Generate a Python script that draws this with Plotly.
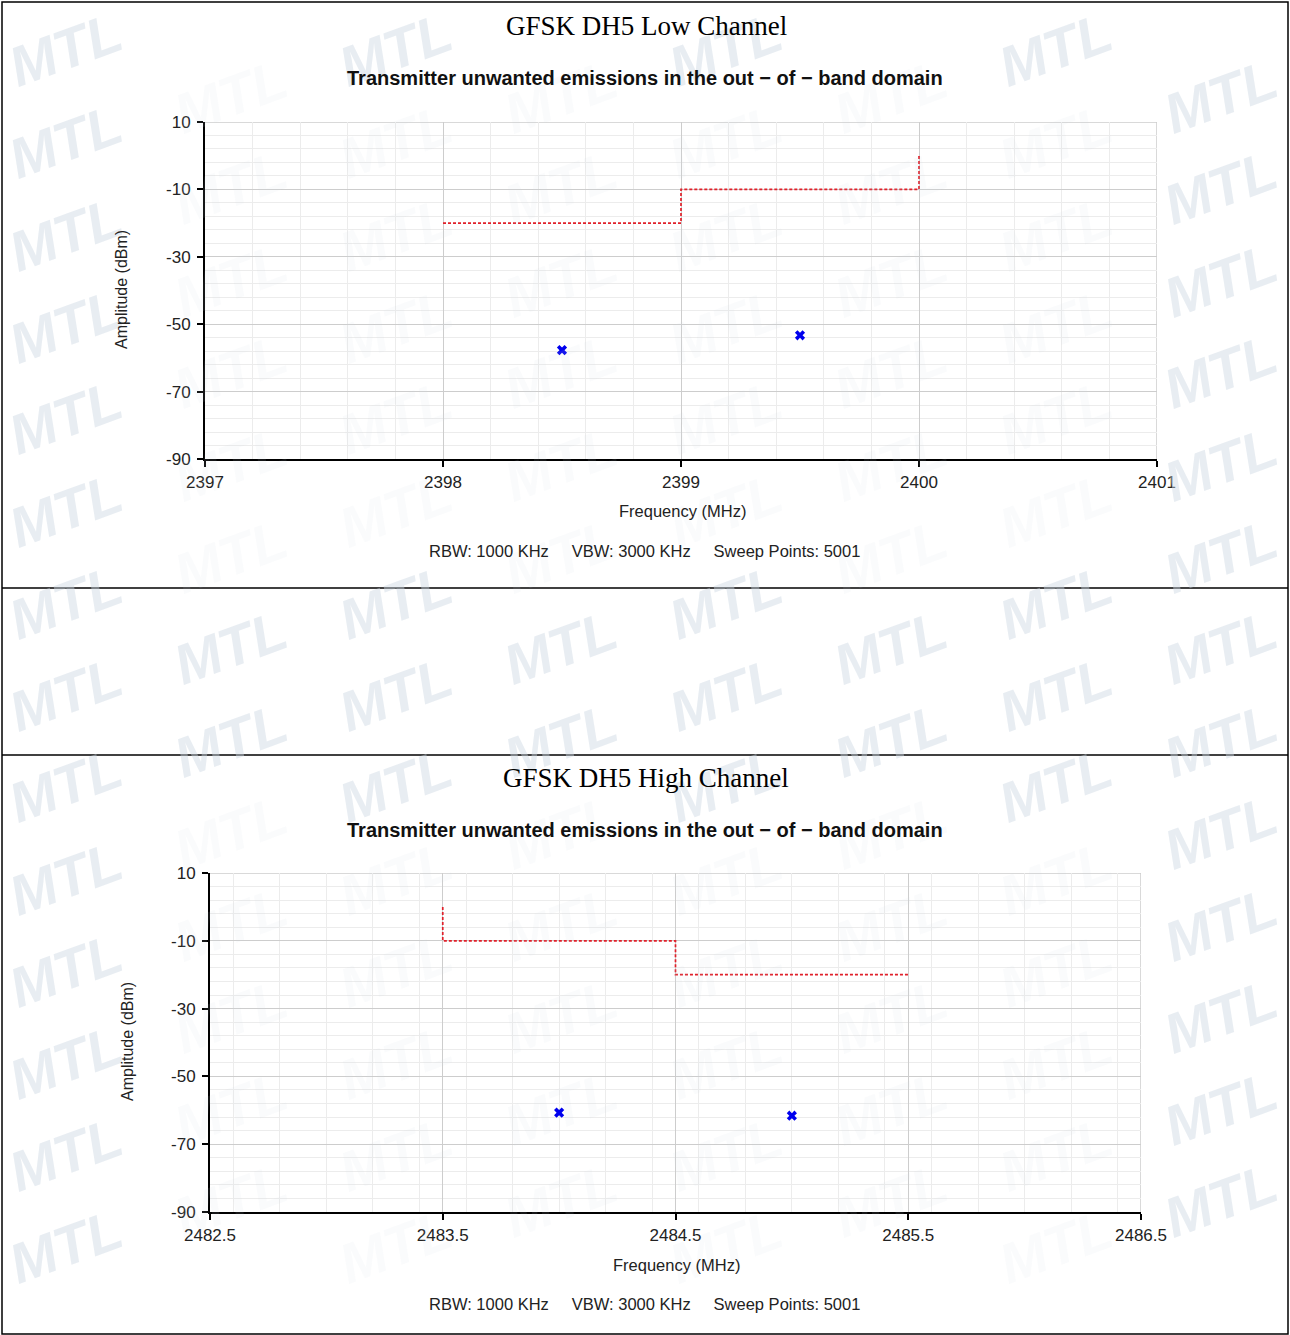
import plotly.graph_objects as go

W, H = 1290, 1335

# ---------------- data ----------------
low_title = "GFSK DH5 Low Channel"
high_title = "GFSK DH5 High Channel"
chart_title = "Transmitter unwanted emissions in the out \u2212 of \u2212 band domain"
info_text = "RBW: 1000 KHz\u00a0\u00a0\u00a0\u00a0 VBW: 3000 KHz\u00a0\u00a0\u00a0\u00a0 Sweep Points: 5001"

low_limit_x = [2398, 2399, 2399, 2400, 2400]
low_limit_y = [-20, -20, -10, -10, 0]
low_peak_x = [2398.5, 2399.5]
low_peak_y = [-57.7, -53.3]

high_limit_x = [2483.5, 2483.5, 2484.5, 2484.5, 2485.5]
high_limit_y = [0, -10, -10, -20, -20]
high_peak_x = [2484.0, 2485.0]
high_peak_y = [-60.7, -61.6]

low_xrange = [2397, 2401]
high_xrange = [2482.5, 2486.5]
y_range = [-90, 10]
y_tick_vals = [10, -10, -30, -50, -70, -90]
y_tick_text = ["10", "-10", "-30", "-50", "-70", "-90"]


def PX(px):
    return px / W


def PY(py):
    return 1 - py / H


fig = go.Figure()

SANS = "Liberation Sans, Arial, sans-serif"
SERIF = "Liberation Serif, Times New Roman, serif"

LIMIT_LINE = dict(color="#e0202a", width=1.7, dash="3px,2px")
PEAK_MARK = dict(symbol="x", size=9, color="#0000ee", line=dict(width=0))

fig.add_trace(go.Scatter(x=low_limit_x, y=low_limit_y, mode="lines", line=LIMIT_LINE,
                         xaxis="x", yaxis="y", showlegend=False, hoverinfo="skip"))
fig.add_trace(go.Scatter(x=low_peak_x, y=low_peak_y, mode="markers", marker=PEAK_MARK,
                         xaxis="x", yaxis="y", showlegend=False))
fig.add_trace(go.Scatter(x=high_limit_x, y=high_limit_y, mode="lines", line=LIMIT_LINE,
                         xaxis="x2", yaxis="y2", showlegend=False, hoverinfo="skip"))
fig.add_trace(go.Scatter(x=high_peak_x, y=high_peak_y, mode="markers", marker=PEAK_MARK,
                         xaxis="x2", yaxis="y2", showlegend=False))


def xaxis_cfg(rng, dom, anchor, fmt):
    return dict(range=rng, domain=dom, anchor=anchor, dtick=1, tick0=rng[0], tickformat=fmt,
                showline=True, linecolor="black", linewidth=2,
                ticks="outside", ticklen=6, tickwidth=1.5, tickcolor="black",
                ticklabelstandoff=1,
                tickfont=dict(family=SANS, size=17, color="#222"),
                showgrid=True, gridcolor="#cdcdcd", gridwidth=1, zeroline=False,
                minor=dict(dtick=0.2, showgrid=True, gridcolor="#ececec", gridwidth=1, ticks=""),
                automargin=False, fixedrange=True)


def yaxis_cfg(dom, anchor):
    return dict(range=y_range, domain=dom, anchor=anchor,
                tickmode="array", tickvals=y_tick_vals, ticktext=y_tick_text,
                showline=True, linecolor="black", linewidth=2,
                ticks="outside", ticklen=6, tickwidth=1.5, tickcolor="black",
                ticklabelstandoff=3,
                tickfont=dict(family=SANS, size=17, color="#222"),
                showgrid=True, gridcolor="#cdcdcd", gridwidth=1, zeroline=False,
                minor=dict(tickmode="linear", tick0=10, dtick=4, showgrid=True,
                           gridcolor="#ececec", gridwidth=1, ticks=""),
                automargin=False, fixedrange=True)


top_box = dict(l=205, r=1157, t=122, b=459)
bot_box = dict(l=210, r=1141, t=873, b=1212)

fig.update_layout(
    width=W, height=H,
    margin=dict(l=0, r=0, t=0, b=0, pad=0, autoexpand=False),
    paper_bgcolor="white", plot_bgcolor="white",
    xaxis=xaxis_cfg(low_xrange, [PX(top_box["l"]), PX(top_box["r"])], "y", "d"),
    yaxis=yaxis_cfg([PY(top_box["b"]), PY(top_box["t"])], "x"),
    xaxis2=xaxis_cfg(high_xrange, [PX(bot_box["l"]), PX(bot_box["r"])], "y2", ".1f"),
    yaxis2=yaxis_cfg([PY(bot_box["b"]), PY(bot_box["t"])], "x2"),
    showlegend=False,
)

shapes = []
for xr, yr, rng in (("x", "y", low_xrange), ("x2", "y2", high_xrange)):
    shapes.append(dict(type="line", xref=xr, yref=yr, x0=rng[0], x1=rng[1], y0=y_range[1], y1=y_range[1],
                       line=dict(color="#cdcdcd", width=1.5), layer="below"))
    shapes.append(dict(type="line", xref=xr, yref=yr, x0=rng[1], x1=rng[1], y0=y_range[0], y1=y_range[1],
                       line=dict(color="#cdcdcd", width=1.5), layer="below"))

border = dict(color="black", width=1.5)
shapes.append(dict(type="rect", xref="paper", yref="paper", x0=PX(2), x1=PX(1288), y0=PY(1334), y1=PY(2),
                   line=border, layer="above"))
for yy in (588, 755):
    shapes.append(dict(type="line", xref="paper", yref="paper", x0=PX(2), x1=PX(1288), y0=PY(yy), y1=PY(yy),
                       line=border, layer="above"))

annotations = []
# watermark: stronger outside the chart pictures, very faint inside them
image_boxes = [(85, 1215, 50, 585), (85, 1215, 800, 1335)]
for j in range(0, 30):
    for i in range(0, 5):
        cx = 65 + 330 * i + (165 if j % 2 else 0)
        cy = 50 + 46 * j
        if 64 <= cx <= 1222 and 48 <= cy <= 1290:
            inside = any(x0 < cx < x1 and y0 < cy < y1 for x0, x1, y0, y1 in image_boxes)
            col = "rgba(205,214,226,0.10)" if inside else "rgba(205,214,226,0.45)"
            annotations.append(dict(x=PX(cx), y=PY(cy), xref="paper", yref="paper", text="MTL",
                                    showarrow=False, textangle=-20,
                                    font=dict(family=SANS, size=56, color=col, style="italic", weight="bold"),
                                    xanchor="center", yanchor="middle"))


def txt(text, cx, cy, size, family=SANS, color="#222", bold=False, angle=0):
    t = "<b>%s</b>" % text if bold else text
    annotations.append(dict(x=PX(cx), y=PY(cy), xref="paper", yref="paper", text=t, showarrow=False,
                            textangle=angle, font=dict(family=family, size=size, color=color),
                            xanchor="center", yanchor="middle"))


txt(low_title, 646, 26, 27, family=SERIF, color="black")
txt(chart_title, 645, 78, 20, bold=True, color="#111")
txt("Frequency (MHz)", 682, 511, 16.5)
txt("Amplitude (dBm)", 122, 290, 16, angle=-90)
txt(info_text, 644, 551, 16.5)

txt(high_title, 646, 778, 27, family=SERIF, color="black")
txt(chart_title, 645, 830, 20, bold=True, color="#111")
txt("Frequency (MHz)", 676, 1265, 16.5)
txt("Amplitude (dBm)", 127, 1042, 16, angle=-90)
txt(info_text, 644, 1304, 16.5)

fig.update_layout(shapes=shapes, annotations=annotations)

fig.write_html("out.html")
